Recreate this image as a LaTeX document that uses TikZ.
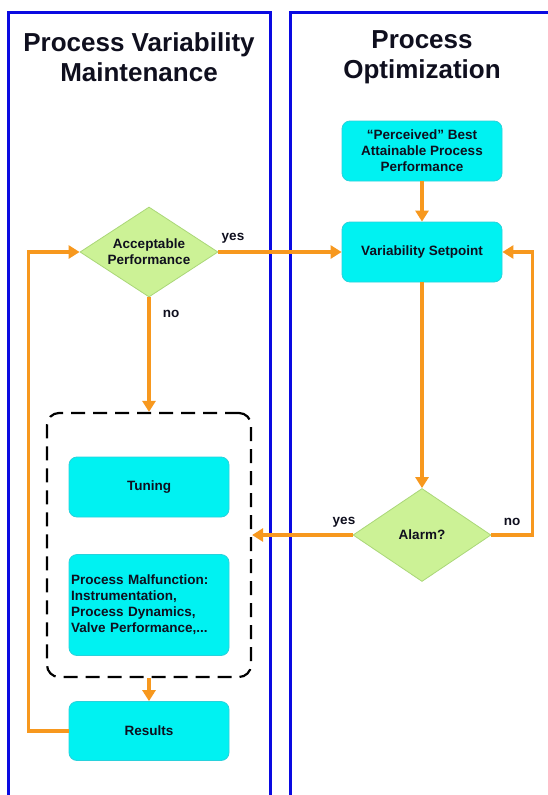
\documentclass[tikz,border=0pt]{standalone}
\usepackage{fontspec}
\setmainfont{Liberation Sans}
\usetikzlibrary{shapes.geometric,arrows.meta}
\definecolor{boxcyan}{RGB}{0,242,242}
\definecolor{boxedge}{RGB}{40,210,220}
\definecolor{dgreen}{RGB}{204,242,150}
\definecolor{dedge}{RGB}{170,215,120}
\definecolor{flow}{RGB}{247,152,30}
\definecolor{panel}{RGB}{10,10,225}
\definecolor{txt}{RGB}{15,15,30}
\tikzset{
  cbox/.style={draw=boxedge, line width=0.8pt, fill=boxcyan, rounded corners=8pt,
    minimum width=160pt, minimum height=60pt, inner sep=2pt, align=center,
    font=\fontsize{13.5}{16}\selectfont\bfseries, text=txt},
  dec/.style={diamond, draw=dedge, line width=0.8pt, fill=dgreen, inner sep=0pt,
    minimum width=138pt, minimum height=90pt},
  dectext/.style={align=center, font=\fontsize{13.5}{16}\selectfont\bfseries, text=txt},
  flowline/.style={draw=flow, line width=3.2pt},
  flowarrow/.style={flowline, -{Triangle[length=11pt,width=13pt]}},
  lbl/.style={font=\fontsize{13.5}{16}\selectfont\bfseries, text=txt},
  ttl/.style={font=\fontsize{26}{30}\selectfont\bfseries, text=txt, align=center},
  panelline/.style={draw=panel, line width=3pt},
}
\begin{document}
\begin{tikzpicture}[x=1pt,y=-1pt]
\useasboundingbox (0,0) rectangle (548,795);
\fill[white] (0,0) rectangle (548,795);
\begin{scope}
\clip (0,0) rectangle (548,795);
\draw[panelline] (8,810) -- (8,12) -- (270,12) -- (270,810);
\draw[panelline] (290,810) -- (290,12) -- (570,12);
\end{scope}
\node[ttl] (t1) at (139,57) {Process Variability\\Maintenance};
\node[ttl] (t2) at (422,57) {Process\\Optimization};

\node[cbox] (perc) at (422,151) {“Perceived” Best\\Attainable Process\\Performance};
\node[cbox] (vs) at (422,252) {Variability Setpoint};
\node[dec] (acc) at (149,252) {};
\node[dectext] (acct) at (acc.center) {Acceptable\\Performance};
\node[dec, minimum height=93pt] (alarm) at (422,535) {};
\node[dectext] (alarmt) at (alarm.center) {Alarm?};
\node[draw=black, line width=2.2pt, dash pattern=on 14pt off 8pt, rounded corners=12pt,
  minimum width=204pt, minimum height=264pt] (dash) at (149,545) {};
\node[cbox] (tun) at (149,487) {Tuning};
\node[cbox, minimum height=101pt, align=left, text width=156pt] (mal) at (149,605)
  {Process Malfunction:\\Instrumentation,\\Process Dynamics,\\Valve Performance,...};
\node[cbox, minimum height=59pt] (res) at (149,731) {Results};

\draw[flowarrow] (perc) -- (vs);
\draw[flowarrow] (acc.east) -- (vs.west);
\draw[flowarrow] (acc.south) -- (dash.north);
\draw[flowarrow] (vs.south) -- (alarm.north);
\draw[flowarrow] (alarm.west) -- (alarm.west -| dash.east);
\draw[flowarrow] (alarm.east) -- ++(41,0) coordinate (nr) |- (vs.east);
\draw[flowarrow] (dash.south) -- (res.north);
\draw[flowarrow] (res.west) -- ++(-40,0) coordinate (rl) |- (acc.west);

\node[lbl] (yes1) at (233,238) {yes};
\node[lbl] (no1) at (171,314) {no};
\node[lbl] (yes2) at (344,522) {yes};
\node[lbl] (no2) at (512,522) {no};
\end{tikzpicture}
\end{document}
